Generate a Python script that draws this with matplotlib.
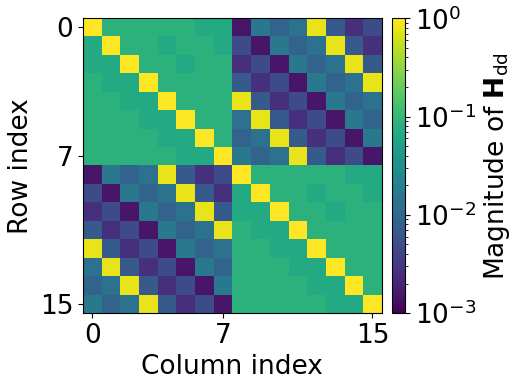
import numpy as np
import matplotlib.pyplot as plt
from matplotlib.colors import LogNorm

# diagonal blocks (self-coupling), 8x8 each
G, D = 0.085, 0.068
diag_block = [
    [1.0, G, G, G, G, G, D, D],
    [D, 1.0, G, G, D, G, G, D],
    [D, D, 1.0, G, G, D, G, G],
    [G, D, D, 1.0, G, G, G, G],
    [G, G, D, D, 1.0, G, G, G],
    [G, G, G, D, D, 1.0, G, G],
    [G, G, G, G, D, D, 1.0, G],
    [G, G, G, G, G, D, D, 1.0],
]

# cross-coupling block, 8x8
cross_block = [
    [0.0015, 0.016, 0.009, 0.013, 0.8, 0.007, 0.0026, 0.005],
    [0.005, 0.0015, 0.016, 0.009, 0.013, 0.8, 0.007, 0.0026],
    [0.0026, 0.005, 0.0015, 0.016, 0.009, 0.013, 0.8, 0.007],
    [0.007, 0.0026, 0.005, 0.0015, 0.016, 0.009, 0.013, 0.8],
    [0.8, 0.007, 0.0026, 0.005, 0.0015, 0.016, 0.009, 0.013],
    [0.013, 0.8, 0.007, 0.0026, 0.005, 0.0015, 0.016, 0.009],
    [0.009, 0.013, 0.8, 0.007, 0.0026, 0.005, 0.0015, 0.016],
    [0.016, 0.009, 0.013, 0.8, 0.007, 0.0026, 0.005, 0.0015],
]

H = np.block([[np.array(diag_block), np.array(cross_block)],
              [np.array(cross_block), np.array(diag_block)]])

ticks = [0, 7, 15]

fig = plt.figure(figsize=(5.18, 3.89), dpi=100)
ax = fig.add_axes([0.160, 0.195, 0.577, 0.758])
cax = fig.add_axes([0.757, 0.195, 0.025, 0.758])

im = ax.imshow(H, cmap="viridis", norm=LogNorm(vmin=1e-3, vmax=1), aspect="auto",
               interpolation="nearest")
ax.set_xticks(ticks)
ax.set_yticks(ticks)
ax.tick_params(labelsize=19)
ax.set_xlabel("Column index", fontsize=19)
ax.set_ylabel("Row index", fontsize=19)

cb = fig.colorbar(im, cax=cax)
cb.ax.tick_params(labelsize=19)
cb.set_label(r"Magnitude of $\mathbf{H}_{\mathrm{dd}}$", fontsize=19)

plt.savefig("out.png")
